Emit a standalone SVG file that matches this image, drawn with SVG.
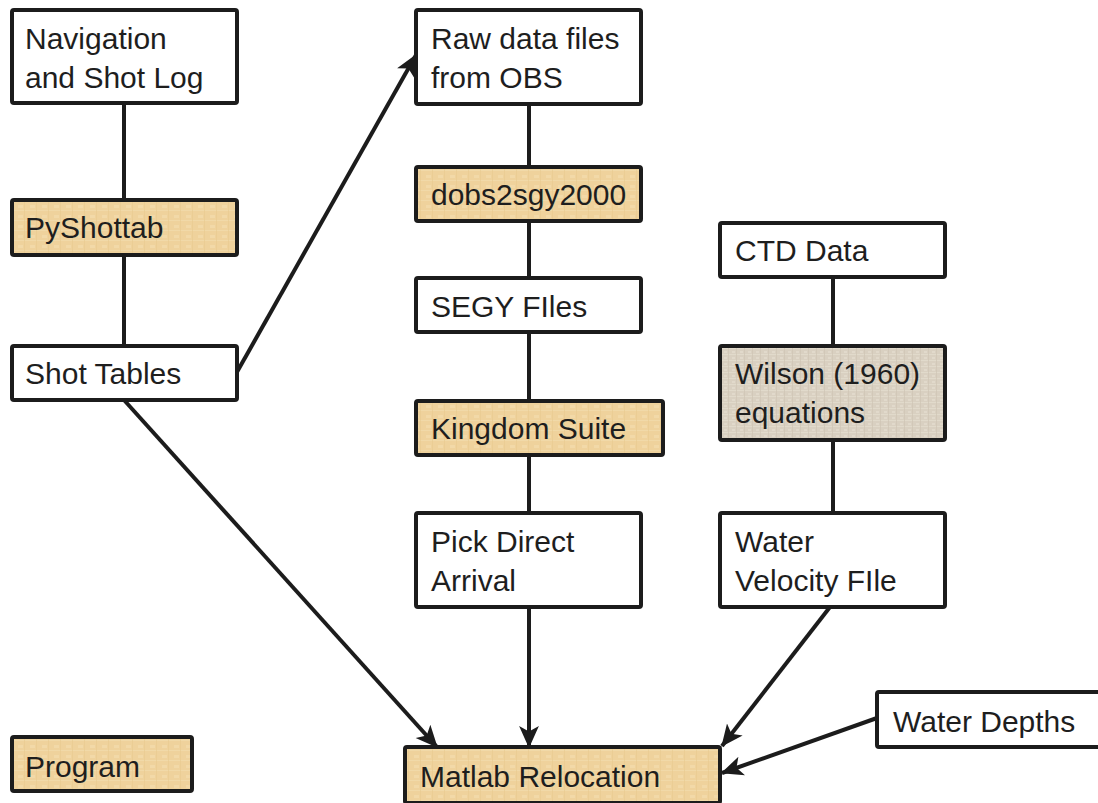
<svg xmlns="http://www.w3.org/2000/svg" width="1098" height="803" viewBox="0 0 1098 803">
<style>
.box{stroke:#1c1c1c;stroke-width:4;stroke-linejoin:round}
.w{fill:#ffffff}
.p{fill:url(#papyrus)}
.c{fill:url(#canvas)}
.t{font-family:"Liberation Sans",Arial,sans-serif;font-size:30px;fill:#1e1e1e}
.ln{stroke:#1c1c1c;stroke-width:4;fill:none}
.ar{marker-end:url(#ah)}
</style>
<defs>
<pattern id="papyrus" width="12" height="10" patternUnits="userSpaceOnUse">
<rect width="12" height="10" fill="#efd29c"/>
<rect x="0" y="0" width="12" height="1" fill="#f3dcae" opacity="0.7"/>
<rect x="0" y="0" width="1" height="10" fill="#e8c98f" opacity="0.6"/>
<rect x="6" y="5" width="5" height="3" fill="#f5e0b4" opacity="0.5"/>
</pattern>
<pattern id="canvas" width="8" height="6" patternUnits="userSpaceOnUse">
<rect width="8" height="6" fill="#d9d0c1"/>
<rect x="0" y="0" width="8" height="1" fill="#e4dccd" opacity="0.8"/>
<rect x="0" y="0" width="1" height="6" fill="#cfc5b4" opacity="0.7"/>
<rect x="4" y="3" width="3" height="2" fill="#e6dfd2" opacity="0.6"/>
</pattern>
<marker id="ah" viewBox="0 0 20 20" refX="19" refY="10" markerWidth="5.5" markerHeight="5.5" orient="auto" markerUnits="strokeWidth">
<path d="M0,1 L20,10 L0,19 L5,10 Z" fill="#1c1c1c"/>
</marker>
</defs>

<g id="connectors">
<line class="ln" x1="124" y1="103" x2="124" y2="200"/>
<line class="ln" x1="124" y1="255" x2="124" y2="346"/>
<line class="ln ar" x1="237" y1="372" x2="416" y2="55"/>
<line class="ln ar" x1="124" y1="400" x2="437" y2="747"/>
<line class="ln" x1="529" y1="104" x2="529" y2="167"/>
<line class="ln" x1="529" y1="221" x2="529" y2="278"/>
<line class="ln" x1="529" y1="332" x2="529" y2="401"/>
<line class="ln" x1="529" y1="455" x2="529" y2="513"/>
<line class="ln ar" x1="529" y1="607" x2="529" y2="747"/>
<line class="ln" x1="833" y1="277" x2="833" y2="346"/>
<line class="ln" x1="833" y1="440" x2="833" y2="513"/>
<line class="ln ar" x1="830" y1="607" x2="722" y2="746"/>
<line class="ln ar" x1="877" y1="718" x2="722" y2="773"/>
</g>

<g id="nav"><rect class="box w" x="12" y="10" width="225" height="93" rx="2"/><text class="t" x="25" y="49">Navigation</text><text class="t" x="25" y="88">and Shot Log</text></g>
<g id="pyshottab"><rect class="box p" x="12" y="200" width="225" height="55" rx="2"/><text class="t" x="25" y="238">PyShottab</text></g>
<g id="shottables"><rect class="box w" x="12" y="346" width="225" height="54" rx="2"/><text class="t" x="25" y="384">Shot Tables</text></g>
<g id="program"><rect class="box p" x="12" y="737" width="180" height="54" rx="2"/><text class="t" x="25" y="777">Program</text></g>

<g id="raw"><rect class="box w" x="416" y="10" width="225" height="94" rx="2"/><text class="t" x="431" y="49">Raw data files</text><text class="t" x="431" y="88">from OBS</text></g>
<g id="dobs"><rect class="box p" x="416" y="167" width="225" height="54" rx="2"/><text class="t" x="431" y="205">dobs2sgy2000</text></g>
<g id="segy"><rect class="box w" x="416" y="278" width="225" height="54" rx="2"/><text class="t" x="431" y="317">SEGY FIles</text></g>
<g id="kingdom"><rect class="box p" x="416" y="401" width="247" height="54" rx="2"/><text class="t" x="431" y="439">Kingdom Suite</text></g>
<g id="pick"><rect class="box w" x="416" y="513" width="225" height="94" rx="2"/><text class="t" x="431" y="552">Pick Direct</text><text class="t" x="431" y="591">Arrival</text></g>
<g id="matlab"><rect class="box p" x="405" y="747" width="315" height="56" rx="2"/><text class="t" x="420" y="787">Matlab Relocation</text></g>

<g id="ctd"><rect class="box w" x="720" y="223" width="225" height="54" rx="2"/><text class="t" x="735" y="261">CTD Data</text></g>
<g id="wilson"><rect class="box c" x="720" y="346" width="225" height="94" rx="2"/><text class="t" x="735" y="384">Wilson (1960)</text><text class="t" x="735" y="423">equations</text></g>
<g id="watervel"><rect class="box w" x="720" y="513" width="225" height="94" rx="2"/><text class="t" x="735" y="552">Water</text><text class="t" x="735" y="591">Velocity FIle</text></g>
<g id="waterdepths"><rect class="box w" x="877" y="692" width="240" height="55" rx="2"/><text class="t" x="893" y="732">Water Depths</text></g>
</svg>
